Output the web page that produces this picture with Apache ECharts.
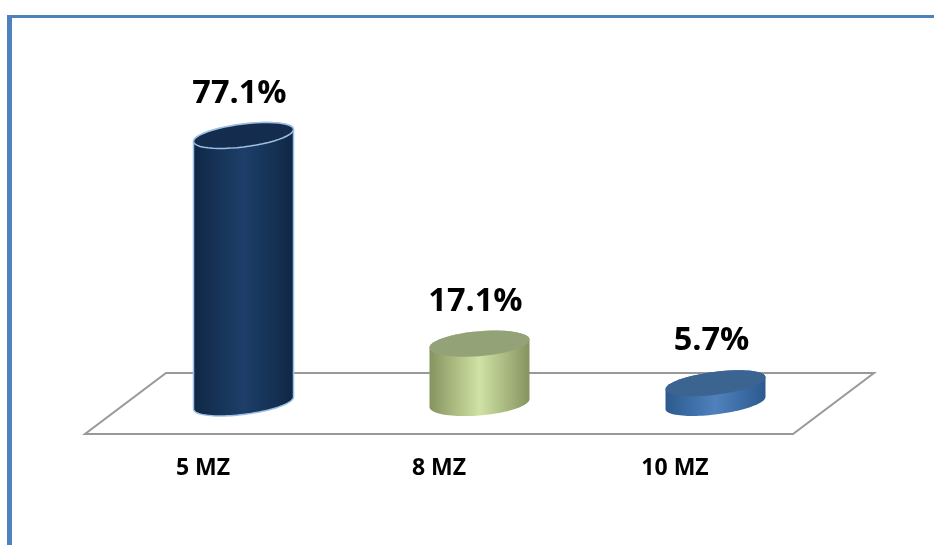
<!DOCTYPE html>
<html>
<head>
<meta charset="utf-8">
<style>html,body{margin:0;padding:0;background:#fff}#c{width:934px;height:545px}</style>
<script src="https://cdn.jsdelivr.net/npm/echarts@6/dist/echarts.min.js"></script>
</head>
<body>
<div id="c"></div>
<script>
const categories = ['5 MZ', '8 MZ', '10 MZ'];
const values = [77.1, 17.1, 5.7];
const valueLabels = ['77.1%', '17.1%', '5.7%'];

const looks = [
  {edge:'#0f2745', mid:'#1d3f69', cap:'#142d4e', stroke:'#9fc0e4', ry:11.5, tilt:6, lw:1.5},
  {edge:'#85945f', mid:'#d0e2a4', cap:'#94a377', stroke:null, ry:12.5, tilt:4, lw:0},
  {edge:'#2c5a8f', mid:'#4f81bd', cap:'#3b6491', stroke:null, ry:11.5, tilt:6, lw:0}
];
const DEPTH_X = 81, DEPTH_Y = 61, RX = 50, BASE_LIFT = 31;

function ellipsePts(cx, cy, l, from, to) {
  const pts = [];
  for (let i = 0; i <= 48; i++) {
    const t = from + (to - from) * i / 48;
    pts.push([cx + RX * Math.cos(t), cy - l.tilt * Math.cos(t) + l.ry * Math.sin(t)]);
  }
  return pts;
}

function renderFloor(params, api) {
  const c = params.coordSys;
  const bottom = c.y + c.height, right = c.x + c.width;
  return {
    type: 'polygon',
    shape: {points: [[c.x, bottom], [right, bottom], [right + DEPTH_X, bottom - DEPTH_Y], [c.x + DEPTH_X, bottom - DEPTH_Y]]},
    style: {fill: '#fff', stroke: '#999999', lineWidth: 2},
    silent: true
  };
}

function renderCylinder(params, api) {
  const i = api.value(0), l = looks[i];
  const base = api.coord([i, 0]), top = api.coord([i, api.value(1)]);
  const cx = base[0] + DEPTH_X / 2;
  const yb = base[1] - BASE_LIFT, yt = top[1] - BASE_LIFT;
  const body = ellipsePts(cx, yb, l, 0, Math.PI).concat(ellipsePts(cx, yt, l, Math.PI, 2 * Math.PI));
  const grad = {type: 'linear', x: 0, y: 0, x2: 1, y2: 0, colorStops: [
    {offset: 0, color: l.edge}, {offset: 0.5, color: l.mid}, {offset: 1, color: l.edge}]};
  const children = [
    {type: 'polygon', shape: {points: body}, style: {fill: grad, stroke: l.stroke, lineWidth: l.lw}},
    {type: 'polygon', shape: {points: ellipsePts(cx, yt, l, 0, 2 * Math.PI)}, style: {fill: l.cap, stroke: l.stroke, lineWidth: l.lw}},
    {type: 'text', style: {text: valueLabels[i], x: cx - 4, y: yt - 42, align: 'center', verticalAlign: 'middle',
      font: 'bold 32.5px "Open Sans", sans-serif', fill: '#000'}}
  ];
  return {type: 'group', children};
}

const chart = echarts.init(document.getElementById('c'), null, {renderer: 'canvas'});
chart.setOption({
  animation: false,
  backgroundColor: '#fff',
  graphic: [
    {type: 'rect', shape: {x: 7, y: 15, width: 5, height: 530}, style: {fill: '#4f81bd'}, silent: true},
    {type: 'rect', shape: {x: 7, y: 15, width: 927, height: 3}, style: {fill: '#4f81bd'}, silent: true}
  ],
  grid: {left: 85, width: 708, top: 87, height: 347},
  xAxis: {
    type: 'category', data: categories,
    axisLine: {show: false}, axisTick: {show: false},
    axisLabel: {color: '#000', fontFamily: 'Open Sans', fontWeight: 'bold', fontSize: 23, margin: 23}
  },
  yAxis: {type: 'value', min: 0, max: 100, show: false, splitLine: {show: false}},
  series: [
    {type: 'custom', coordinateSystem: 'cartesian2d', renderItem: renderFloor, data: [[0, 0]], z: 1, silent: true},
    {type: 'custom', coordinateSystem: 'cartesian2d', renderItem: renderCylinder, encode: {x: 0, y: 1},
     data: values.map((v, i) => [i, v]), z: 2}
  ]
});
</script>
</body>
</html>
